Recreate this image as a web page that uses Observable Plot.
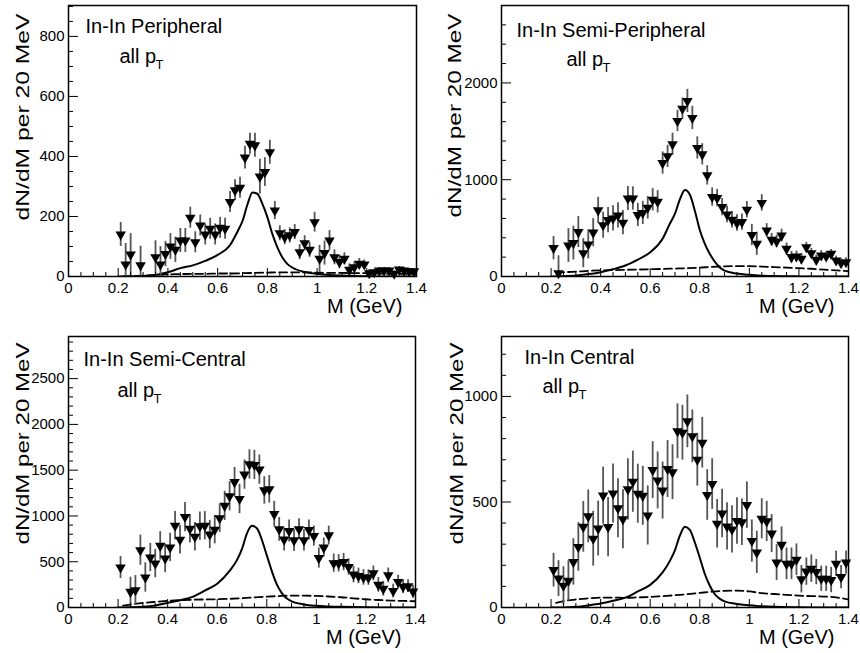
<!DOCTYPE html>
<html>
<head>
<meta charset="utf-8">
<script src="https://cdn.jsdelivr.net/npm/d3@7"></script>
<script src="https://cdn.jsdelivr.net/npm/@observablehq/plot@0.6"></script>
<style>
  html, body { margin: 0; padding: 0; background: #fff; }
  #root { position: relative; width: 860px; height: 653px; overflow: hidden; background: #fff; }
  .panel { position: absolute; }
</style>
</head>
<body>
<div id="root"></div>
<script>
// ---------- data ----------
const mass = [0.21,0.23,0.25,0.27,0.29,0.31,0.33,0.35,0.37,0.39,
              0.41,0.43,0.45,0.47,0.49,0.51,0.53,0.55,0.57,0.59,
              0.61,0.63,0.65,0.67,0.69,0.71,0.73,0.75,0.77,0.79,
              0.81,0.83,0.85,0.87,0.89,0.91,0.93,0.95,0.97,0.99,
              1.01,1.03,1.05,1.07,1.09,1.11,1.13,1.15,1.17,1.19,
              1.21,1.23,1.25,1.27,1.29,1.31,1.33,1.35,1.37,1.39];

const periphV = [140,40,73,null,37,null,null,64,40,75, 100,89,120,120,196,114,170,140,159,140,
                 162,159,248,287,296,396,442,437,333,348, 414,220,144,131,137,148,81,111,89,181,
                 59,78,120,64,48,59,22,31,42,40, 11,14,20,20,20,9,23,20,17,17];
const periphE = [40,70,70,null,64,null,null,55,60,42, 43,42,40,40,35,35,35,35,35,35,
                 35,35,35,35,35,38,35,40,58,48, 40,30,25,25,25,25,25,25,25,33,
                 45,40,33,25,22,20,20,18,18,15, 12,10,10,10,10,10,10,10,8,8];

const semiPeriphV = [293,34,null,320,345,459,241,331,453,683, 530,583,600,631,556,806,806,636,657,709,
                     793,772,1172,1241,1366,1607,1734,1814,1638,1328, 1262,1045,821,810,717,641,586,552,562,690,
                     428,338,760,476,379,362,424,286,200,207, 183,303,241,172,217,207,234,166,138,148];
const semiPeriphE = [120,180,null,175,175,160,150,150,145,135, 135,130,130,130,125,125,120,120,120,115,
                     115,115,115,115,115,110,110,120,120,115, 110,100,95,90,90,85,85,85,85,85,
                     110,120,85,70,65,65,65,60,60,55, 55,50,50,50,50,45,45,45,45,45];

const semiCentralV = [437,null,171,189,626,328,546,480,673,535, 656,893,740,988,860,773,888,893,797,850,
                      975,1110,1215,1370,1185,1452,1563,1557,1506,1279, 1291,1020,853,742,835,733,855,733,846,780,
                      540,654,788,484,482,496,442,360,345,328, 327,373,247,205,351,180,278,227,233,174];
const semiCentralE = [120,null,160,160,165,160,155,155,155,155, 155,155,155,160,155,155,155,155,155,155,
                      155,160,160,160,160,160,160,160,160,150, 150,140,130,125,120,120,115,115,110,110,
                      110,105,100,100,95,95,90,90,85,85, 85,80,80,80,80,75,75,75,70,70];

const centralV = [177,137,103,126,216,287,382,432,326,374, 530,381,540,470,418,560,596,539,529,436,
                  651,602,554,656,641,835,828,882,811,700, 781,533,585,397,445,384,370,410,404,485,
                  315,261,420,408,350,213,297,207,207,226, 134,170,184,168,136,136,130,207,144,213];
const centralE = [80,85,90,95,110,115,120,125,130,130, 135,140,140,140,140,145,145,140,140,140,
                  135,135,135,135,130,130,130,125,125,125, 120,120,120,115,115,112,112,110,110,110,
                  100,100,95,95,90,85,85,75,75,75, 65,65,65,60,60,60,60,60,55,55];

// model curves (solid)
const curveM = [0.2,0.25,0.3,0.35,0.4,0.45,0.5,0.55,0.6,0.65,0.68,0.7,0.72,0.74,0.76,0.78,0.8,0.82,0.84,0.86,0.88,0.9,0.95,1.0,1.05,1.1,1.2,1.3,1.4];
const periphSolid      = [0,0,2,5,14,28,37,52,72,105,150,185,240,280,275,242,198,142,98,64,42,30,15,9,5,3,1,0,0];
const semiPeriphSolid  = [0,3,10,25,45,75,114,175,250,390,550,650,800,893,845,680,480,340,235,155,95,60,30,17,9,4,1,0,0];
const semiCentralSolid = [0,2,7,22,51,80,116,185,260,400,520,640,810,892,865,740,570,400,255,160,100,68,33,18,11,7,2,0,0];
const centralSolid     = [0,0,3,10,19,32,47,76,107,166,222,272,342,383,368,308,236,160,104,64,42,29,17,11,6,3,1,0,0];

// dashed curves
const dashM = [0.22,0.25,0.3,0.35,0.4,0.45,0.5,0.55,0.6,0.65,0.7,0.75,0.8,0.85,0.9,0.95,1.0,1.05,1.1,1.15,1.2,1.25,1.3,1.35,1.4];
const periphDash      = [0,1,3,5,7,8,9,9,10,10,11,12,13,14,14,14,13,12,12,11,11,10,9,9,8];
const semiPeriphDash  = [42,45,50,58,63,66,69,72,75,78,82,86,92,100,105,107,107,103,97,92,86,80,72,64,55];
const semiCentralDash = [20,32,50,62,72,80,85,88,90,95,102,110,118,125,130,130,126,120,112,100,90,82,76,72,68];
const centralDash     = [22,30,38,43,47,47,46,48,50,54,58,63,69,75,79,80,76,68,64,60,56,54,52,48,38];

// ticks
const xMajor = [0,0.2,0.4,0.6,0.8,1.0,1.2,1.4];
const xTickLabels = ["0","0.2","0.4","0.6","0.8","1","1.2","1.4"];
const xMinor = [0.05,0.1,0.15,0.25,0.3,0.35,0.45,0.5,0.55,0.65,0.7,0.75,0.85,0.9,0.95,1.05,1.1,1.15,1.25,1.3,1.35];

const periphYMajor = [0,200,400,600,800];
const periphYLabels = ["0","200","400","600","800"];
const periphYMinor = [50,100,150,250,300,350,450,500,550,650,700,750,850,900];

const semiPeriphYMajor = [0,1000,2000];
const semiPeriphYLabels = ["0","1000","2000"];
const semiPeriphYMinor = [200,400,600,800,1200,1400,1600,1800,2200,2400,2600,2800];

const semiCentralYMajor = [0,500,1000,1500,2000,2500];
const semiCentralYLabels = ["0","500","1000","1500","2000","2500"];
const semiCentralYMinor = [100,200,300,400,600,700,800,900,1100,1200,1300,1400,1600,1700,1800,1900,2100,2200,2300,2400,2600,2700,2800,2900];

const centralYMajor = [0,500,1000];
const centralYLabels = ["0","500","1000"];
const centralYMinor = [100,200,300,400,600,700,800,900,1100,1200];

const yTitle = "dN/dM per 20 MeV";
const xTitle = "M (GeV)";
const subText = "all p";
const subScript = "T";

const FONT = "'Liberation Sans', Arial, Helvetica, sans-serif";

function makePanel(cfg) {
  const pts = mass.map((m, i) => ({m, v: cfg.v[i], e: cfg.e[i]})).filter(d => d.v != null);
  const solid = curveM.map((m, i) => ({m, v: cfg.solid[i]}));
  const dash = dashM.map((m, i) => ({m, v: cfg.dash[i]}));
  const pw = cfg.width - cfg.ml - cfg.mr;
  const ph = cfg.height - cfg.mt - cfg.mb;
  const svg = Plot.plot({
    width: cfg.width,
    height: cfg.height,
    marginLeft: cfg.ml, marginRight: cfg.mr, marginTop: cfg.mt, marginBottom: cfg.mb,
    x: {domain: [0, 1.4]},
    y: {domain: [0, cfg.yMax]},
    style: {fontFamily: FONT, fontSize: "15px", background: "white", color: "black", overflow: "visible"},
    marks: [
      Plot.line(dash, {x: "m", y: "v", stroke: "black", strokeWidth: 1.8, strokeDasharray: "8,4", curve: "monotone-x", clip: true}),
      Plot.line(solid, {x: "m", y: "v", stroke: "black", strokeWidth: 2, curve: "monotone-x", clip: true}),
      Plot.ruleX(pts, {x: "m", y1: d => d.v - d.e, y2: d => d.v + d.e, stroke: "#555", strokeWidth: 1.8, clip: true}),
      Plot.dot(pts, {x: "m", y: "v", symbol: "triangle", r: 3.9, fill: "black", stroke: null, rotate: 180}),
      Plot.frame({stroke: "black", strokeWidth: 1.5}),
      Plot.ruleX(xMinor, {x: d => d, insetTop: ph - 4, stroke: "black", strokeWidth: 1}),
      Plot.ruleX(xMajor, {x: d => d, insetTop: ph - 8, stroke: "black", strokeWidth: 1}),
      Plot.ruleY(cfg.yMinor, {y: d => d, insetRight: pw - 5, stroke: "black", strokeWidth: 1}),
      Plot.ruleY(cfg.yMajor, {y: d => d, insetRight: pw - 10, stroke: "black", strokeWidth: 1}),
      Plot.axisX(xMajor, {tickSize: 0, tickPadding: 6, label: null, fontSize: 15,
        tickFormat: d => xTickLabels[xMajor.indexOf(d)]}),
      Plot.axisY(cfg.yMajor, {tickSize: 0, tickPadding: 4, label: null, fontSize: 15,
        tickFormat: d => cfg.yLabels[cfg.yMajor.indexOf(d)]}),
      Plot.text([cfg.title], {text: d => d, frameAnchor: "top-left", textAnchor: "start", lineAnchor: "bottom",
        dx: cfg.tdx, dy: cfg.tdy, fontSize: 20, fill: "black"}),
      Plot.text([subText], {text: d => d, frameAnchor: "top-left", textAnchor: "start", lineAnchor: "bottom",
        dx: cfg.adx, dy: cfg.ady, fontSize: 20, fill: "black"}),
      Plot.text([subScript], {text: d => d, frameAnchor: "top-left", textAnchor: "start", lineAnchor: "bottom",
        dx: cfg.adx + 36, dy: cfg.ady + 6, fontSize: 13, fill: "black"}),
      Plot.text([yTitle], {text: d => d, frameAnchor: "top-left", textAnchor: "end", lineAnchor: "bottom",
        rotate: -90, dx: cfg.ydx, dy: cfg.ydy, fontSize: 19, fill: "black"}),
      Plot.text([xTitle], {text: d => d, frameAnchor: "bottom-right", textAnchor: "end", lineAnchor: "bottom",
        dx: -14, dy: 36, fontSize: 20, fill: "black"})
    ]
  });
  d3.select(svg).selectAll("text")
    .filter(function() { return this.textContent === yTitle; })
    .attr("textLength", cfg.ylen)
    .attr("lengthAdjust", "spacingAndGlyphs");
  const div = document.createElement("div");
  div.className = "panel";
  div.style.left = cfg.left + "px";
  div.style.top = cfg.top + "px";
  div.appendChild(svg);
  document.getElementById("root").appendChild(div);
}

makePanel({left: 0, top: 0, width: 430, height: 320, ml: 68, mr: 14, mt: 5, mb: 44,
  v: periphV, e: periphE, solid: periphSolid, dash: periphDash, yMax: 903,
  yMajor: periphYMajor, yLabels: periphYLabels, yMinor: periphYMinor,
  title: "In-In Peripheral", tdx: 17, tdy: 27, adx: 51, ady: 57, ydx: -40, ydy: 8, ylen: 207});

makePanel({left: 430, top: 0, width: 430, height: 320, ml: 71, mr: 12, mt: 5, mb: 44,
  v: semiPeriphV, e: semiPeriphE, solid: semiPeriphSolid, dash: semiPeriphDash, yMax: 2800,
  yMajor: semiPeriphYMajor, yLabels: semiPeriphYLabels, yMinor: semiPeriphYMinor,
  title: "In-In Semi-Peripheral", tdx: 15, tdy: 31, adx: 65, ady: 60, ydx: -41, ydy: 8, ylen: 204});

makePanel({left: 0, top: 320, width: 430, height: 333, ml: 68, mr: 15, mt: 16, mb: 46,
  v: semiCentralV, e: semiCentralE, solid: semiCentralSolid, dash: semiCentralDash, yMax: 2960,
  yMajor: semiCentralYMajor, yLabels: semiCentralYLabels, yMinor: semiCentralYMinor,
  title: "In-In Semi-Central", tdx: 15, tdy: 29, adx: 49, ady: 60, ydx: -40, ydy: 6, ylen: 202});

makePanel({left: 430, top: 320, width: 430, height: 333, ml: 71, mr: 12, mt: 16, mb: 46,
  v: centralV, e: centralE, solid: centralSolid, dash: centralDash, yMax: 1284,
  yMajor: centralYMajor, yLabels: centralYLabels, yMinor: centralYMinor,
  title: "In-In Central", tdx: 23, tdy: 27, adx: 41, ady: 56, ydx: -39, ydy: 6, ylen: 202});
</script>
</body>
</html>
